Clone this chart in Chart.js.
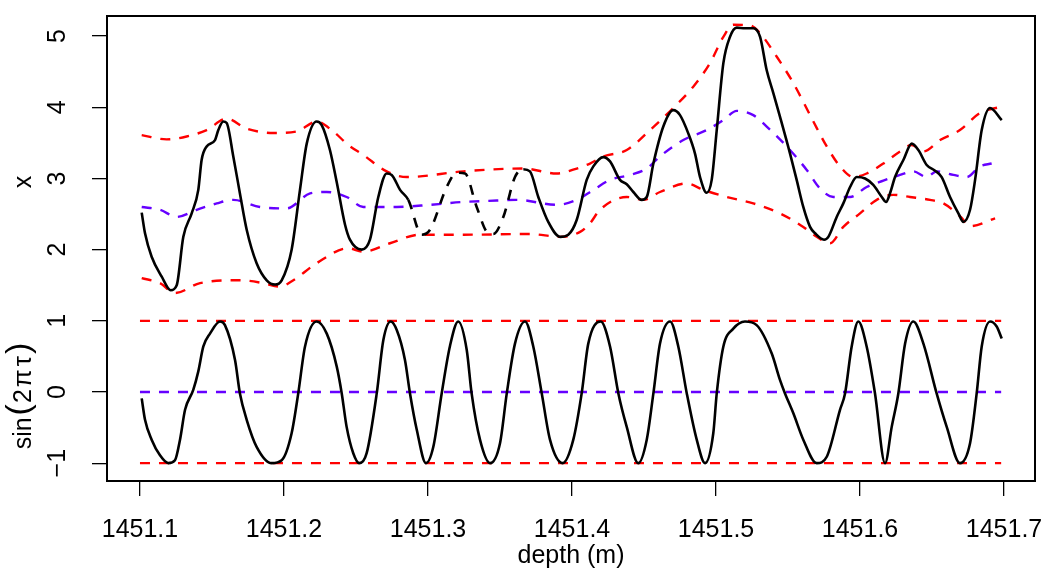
<!DOCTYPE html>
<html>
<head>
<meta charset="utf-8">
<script src="https://cdn.jsdelivr.net/npm/chart.js@4.4.1/dist/chart.umd.min.js"></script>
<style>
  body { margin: 0; background: #fff; }
  canvas { display: block; }
</style>
</head>
<body>
<canvas id="chart" width="1051" height="575"></canvas>
<script>
// Tick labels
const xTicks = [1451.1, 1451.2, 1451.3, 1451.4, 1451.5, 1451.6, 1451.7];
const yTicks = [-1, 0, 1, 2, 3, 4, 5];

// Upper panel: measured signal x(depth), dashed where it was interpolated
const xDepth = [
    1451.1012, 1451.1035, 1451.1081, 1451.1151, 1451.1213, 1451.1255, 1451.1301, 1451.1359,
    1451.1405, 1451.1428, 1451.1463, 1451.1521, 1451.1544, 1451.1578, 1451.1602, 1451.1648,
    1451.1694, 1451.1741, 1451.1810, 1451.1880, 1451.1938, 1451.1984, 1451.2053, 1451.2111,
    1451.2158, 1451.2227, 1451.2262, 1451.2319, 1451.2366, 1451.2424, 1451.2458, 1451.2540,
    1451.2597, 1451.2655, 1451.2713, 1451.2748, 1451.2806, 1451.2863,
    1451.2956, 1451.3014, 1451.3130, 1451.3199, 1451.3257, 1451.3338, 1451.3419, 1451.3453,
    1451.3523, 1451.3604, 1451.3662,
    1451.3708, 1451.3766, 1451.3835, 1451.3917, 1451.3974, 1451.4033, 1451.4102, 1451.4148,
    1451.4217, 1451.4264, 1451.4333, 1451.4380, 1451.4426, 1451.4484, 1451.4519, 1451.4565,
    1451.4634, 1451.4703, 1451.4750, 1451.4808, 1451.4854, 1451.4889, 1451.4935, 1451.4970,
    1451.5005, 1451.5051, 1451.5097, 1451.5144, 1451.5201, 1451.5259, 1451.5306, 1451.5352,
    1451.5398, 1451.5444, 1451.5514, 1451.5560, 1451.5606, 1451.5653, 1451.5688, 1451.5750,
    1451.5780, 1451.5838, 1451.5884, 1451.5931, 1451.5977, 1451.6035, 1451.6092, 1451.6151,
    1451.6181, 1451.6208, 1451.6243, 1451.6301, 1451.6359, 1451.6405, 1451.6463, 1451.6521,
    1451.6567, 1451.6625, 1451.6683, 1451.6718, 1451.6764, 1451.6799, 1451.6845, 1451.6903,
    1451.6984
];
const xValues = [
    2.52, 2.23, 1.90, 1.62, 1.43, 1.50, 2.18, 2.51,
    2.84, 3.26, 3.45, 3.54, 3.68, 3.80, 3.78, 3.31,
    2.79, 2.28, 1.81, 1.57, 1.51, 1.57, 2.00, 2.84,
    3.49, 3.80, 3.75, 3.40, 2.95, 2.35, 2.14, 2.00,
    2.14, 2.74, 3.07, 3.05, 2.84, 2.70,
    2.21, 2.28, 2.88, 3.08, 3.07, 2.60, 2.23, 2.22,
    2.46, 3.02, 3.13,
    3.10, 2.74, 2.39, 2.18, 2.21, 2.42, 2.98, 3.17,
    3.30, 3.24, 2.98, 2.92, 2.81, 2.70, 2.74, 3.21,
    3.73, 3.96, 3.89, 3.63, 3.35, 3.02, 2.80, 2.98,
    3.68, 4.62, 4.99, 5.12, 5.11, 5.11, 4.99, 4.52,
    4.20, 3.87, 3.35, 2.98, 2.60, 2.32, 2.23, 2.14,
    2.18, 2.46, 2.65, 2.88, 3.02, 3.00, 2.91, 2.74,
    2.67, 2.79, 3.02, 3.26, 3.49, 3.40, 3.19, 3.11,
    3.02, 2.74, 2.51, 2.39, 2.56, 2.98, 3.68, 3.99,
    3.82
];
const gapStart = 1451.2863;
const gapEnd = 1451.3662;

// Upper panel envelopes
const upperEnvDepth = [
    1451.1012, 1451.1185, 1451.1324, 1451.1463, 1451.1602, 1451.1741, 1451.1926, 1451.2088,
    1451.2227, 1451.2342, 1451.2447, 1451.2551, 1451.2713, 1451.2852, 1451.3245, 1451.3662,
    1451.3894, 1451.4033, 1451.4125, 1451.4217, 1451.4380, 1451.4542, 1451.4703, 1451.4842,
    1451.4958, 1451.5051, 1451.5120, 1451.5236, 1451.5306, 1451.5422, 1451.5537, 1451.5676,
    1451.5769, 1451.5861, 1451.5954, 1451.6046, 1451.6162, 1451.6278, 1451.6359, 1451.6440,
    1451.6556, 1451.6694, 1451.6833, 1451.6984
];
const upperEnvValues = [
    3.61, 3.55, 3.59, 3.68, 3.84, 3.70, 3.64, 3.66,
    3.80, 3.66, 3.47, 3.33, 3.10, 3.02, 3.10, 3.14,
    3.07, 3.14, 3.21, 3.31, 3.40, 3.68, 3.99, 4.29,
    4.62, 4.99, 5.16, 5.15, 5.04, 4.71, 4.34, 3.80,
    3.45, 3.17, 3.02, 3.07, 3.21, 3.38, 3.47, 3.38,
    3.54, 3.68, 3.92, 4.01
];
const lowerEnvDepth = [
    1451.1012, 1451.1139, 1451.1243, 1451.1417, 1451.1694, 1451.1856, 1451.1972, 1451.2065,
    1451.2227, 1451.2447, 1451.2551, 1451.2736, 1451.2944, 1451.3245, 1451.3708, 1451.3917,
    1451.4056, 1451.4125, 1451.4194, 1451.4380, 1451.4495, 1451.4611, 1451.4797, 1451.4912,
    1451.5074, 1451.5259, 1451.5444, 1451.5606, 1451.5699, 1451.5792, 1451.5884, 1451.6000,
    1451.6116, 1451.6231, 1451.6347, 1451.6486, 1451.6579, 1451.6699, 1451.6764, 1451.6938
];
const lowerEnvValues = [
    1.60, 1.53, 1.39, 1.53, 1.57, 1.53, 1.48, 1.57,
    1.81, 2.02, 1.97, 2.09, 2.21, 2.21, 2.22, 2.18,
    2.25, 2.37, 2.56, 2.74, 2.70, 2.81, 2.93, 2.84,
    2.74, 2.65, 2.51, 2.32, 2.18, 2.09, 2.32, 2.51,
    2.70, 2.77, 2.74, 2.70, 2.65, 2.46, 2.33, 2.44
];
const meanDepth = [
    1451.1012, 1451.1139, 1451.1255, 1451.1394, 1451.1533, 1451.1648, 1451.1833, 1451.2019,
    1451.2181, 1451.2297, 1451.2435, 1451.2551, 1451.2783, 1451.3014, 1451.3245, 1451.3477,
    1451.3616, 1451.3894, 1451.4033, 1451.4148, 1451.4264, 1451.4403, 1451.4519, 1451.4611,
    1451.4773, 1451.4935, 1451.5051, 1451.5144, 1451.5259, 1451.5352, 1451.5491, 1451.5630,
    1451.5722, 1451.5815, 1451.5931, 1451.6046, 1451.6162, 1451.6278, 1451.6370, 1451.6463,
    1451.6532, 1451.6648, 1451.6741, 1451.6833, 1451.6914
];
const meanValues = [
    2.60, 2.56, 2.46, 2.56, 2.65, 2.70, 2.60, 2.58,
    2.79, 2.81, 2.74, 2.60, 2.60, 2.63, 2.67, 2.69,
    2.70, 2.63, 2.70, 2.84, 2.98, 3.05, 3.14, 3.31,
    3.54, 3.68, 3.82, 3.95, 3.89, 3.73, 3.45, 3.12,
    2.86, 2.74, 2.74, 2.88, 2.97, 3.05, 3.10, 3.02,
    3.10, 3.05, 3.02, 3.17, 3.21
];

// Lower panel: sin(2*pi*tau)
const sinDepth = [
    1451.1012, 1451.1035, 1451.1081, 1451.1139, 1451.1197, 1451.1243, 1451.1278, 1451.1313,
    1451.1370, 1451.1405, 1451.1440, 1451.1486, 1451.1556, 1451.1590, 1451.1660, 1451.1694,
    1451.1741, 1451.1810, 1451.1915, 1451.1984, 1451.2053, 1451.2099, 1451.2146, 1451.2227,
    1451.2297, 1451.2366, 1451.2401, 1451.2435, 1451.2481, 1451.2523, 1451.2574, 1451.2644,
    1451.2690, 1451.2741, 1451.2783, 1451.2840, 1451.2875, 1451.2922, 1451.2986, 1451.3037,
    1451.3095, 1451.3153, 1451.3210, 1451.3269, 1451.3303, 1451.3361, 1451.3431, 1451.3500,
    1451.3547, 1451.3604, 1451.3674, 1451.3731, 1451.3790, 1451.3847, 1451.3935, 1451.4009,
    1451.4067, 1451.4113, 1451.4199, 1451.4264, 1451.4322, 1451.4380, 1451.4460, 1451.4519,
    1451.4565, 1451.4611, 1451.4681, 1451.4738, 1451.4797, 1451.4866, 1451.4924, 1451.4981,
    1451.5005, 1451.5051, 1451.5120, 1451.5201, 1451.5282, 1451.5387, 1451.5444, 1451.5479,
    1451.5537, 1451.5606, 1451.5699, 1451.5769, 1451.5861, 1451.5896, 1451.5942, 1451.5988,
    1451.6046, 1451.6104, 1451.6174, 1451.6220, 1451.6266, 1451.6313, 1451.6370, 1451.6440,
    1451.6532, 1451.6602, 1451.6694, 1451.6764, 1451.6810, 1451.6845, 1451.6903, 1451.6949,
    1451.6984
];
const sinValues = [
    -0.09, -0.39, -0.67, -0.89, -1.00, -0.96, -0.67, -0.25,
    0.03, 0.29, 0.64, 0.82, 0.99, 0.94, 0.45, -0.02,
    -0.39, -0.77, -1.00, -0.96, -0.58, -0.02, 0.64, 0.99,
    0.82, 0.36, -0.02, -0.49, -0.86, -1.00, -0.86, -0.02,
    0.73, 0.99, 0.87, 0.45, -0.02, -0.53, -1.00, -0.77,
    -0.02, 0.65, 0.99, 0.59, -0.02, -0.67, -1.00, -0.72,
    -0.02, 0.68, 0.99, 0.64, -0.02, -0.67, -1.00, -0.67,
    -0.02, 0.68, 0.99, 0.64, -0.02, -0.49, -1.00, -0.67,
    -0.02, 0.68, 0.99, 0.64, -0.02, -0.67, -1.00, -0.58,
    -0.02, 0.64, 0.89, 0.99, 0.94, 0.54, 0.17, -0.02,
    -0.30, -0.67, -1.00, -0.91, -0.25, -0.02, 0.64, 0.99,
    0.64, -0.02, -1.00, -0.49, -0.02, 0.68, 0.99, 0.68,
    -0.02, -0.49, -1.00, -0.72, -0.02, 0.64, 0.99, 0.92,
    0.75
];
const flatDepth = [1451.1, 1451.698];
const sinUpper = [1, 1];
const sinLower = [-1, -1];
const sinMean = [0, 0];

// Axis limits (R adds 4% around the data)
const X_MIN = 1451.0771;
const X_MAX = 1451.7215;
const Y_MIN = -1.2505;
const Y_MAX = 5.283;

const RED = '#FF0000';
const PURPLE = '#6600FF';
const DASH = [10, 9];
const FAMILY = '"Liberation Sans", Arial, Helvetica, sans-serif';
const FONT = '25px ' + FAMILY;

const toPoints = (xs, ys) => xs.map((x, i) => ({ x: x, y: ys[i] }));

function dashed(label, xs, ys, color) {
    return {
        label: label,
        data: toPoints(xs, ys),
        borderColor: color,
        borderWidth: 2.4,
        borderDash: DASH,
        cubicInterpolationMode: 'monotone',
        pointRadius: 0,
        fill: false
    };
}

const inGap = ctx => ctx.p0.parsed.x >= gapStart - 1e-6 && ctx.p1.parsed.x <= gapEnd + 1e-6;

// Labels, box and rotated y tick labels like base R graphics
const axisText = {
    id: 'axisText',
    afterDraw(chart) {
        const { ctx, chartArea, scales } = chart;
        const xs = scales.x, ys = scales.y;
        ctx.save();
        ctx.strokeStyle = '#000';
        ctx.lineWidth = 2;
        ctx.strokeRect(chartArea.left, chartArea.top, chartArea.right - chartArea.left, chartArea.bottom - chartArea.top);

        ctx.fillStyle = '#000';
        ctx.font = FONT;
        ctx.textAlign = 'center';
        ctx.textBaseline = 'alphabetic';
        xTicks.forEach(v => {
            ctx.fillText(v.toFixed(1), xs.getPixelForValue(v), 537);
        });
        ctx.fillText('depth (m)', (chartArea.left + chartArea.right) / 2, 563);

        const rotated = (text, x, y) => {
            ctx.save();
            ctx.translate(x, y);
            ctx.rotate(-Math.PI / 2);
            ctx.fillText(text, 0, 0);
            ctx.restore();
        };
        yTicks.forEach(v => {
            rotated(v < 0 ? '\u2212' + Math.abs(v) : String(v), 65, ys.getPixelForValue(v));
        });
        rotated('x', 31, ys.getPixelForValue(2.95));

        // sin(2πτ) in plotmath style: bigger brackets, spaced symbols
        const parts = [
            { t: 'sin', size: 25, dy: 0, gap: 2 },
            { t: '(', size: 34, dy: -2, gap: 1 },
            { t: '2', size: 25, dy: 0, gap: 2 },
            { t: '\u03C0', size: 26, dy: 0, gap: 3 },
            { t: '\u03C4', size: 26, dy: 0, gap: 2 },
            { t: ')', size: 34, dy: -2, gap: 0 }
        ];
        let total = 0;
        parts.forEach(p => {
            ctx.font = p.size + 'px ' + FAMILY;
            p.w = ctx.measureText(p.t).width;
            total += p.w + p.gap;
        });
        ctx.save();
        ctx.translate(31, ys.getPixelForValue(0) + 4);
        ctx.rotate(-Math.PI / 2);
        ctx.textAlign = 'left';
        let pos = -total / 2;
        parts.forEach(p => {
            ctx.font = p.size + 'px ' + FAMILY;
            ctx.fillText(p.t, pos, p.dy);
            pos += p.w + p.gap;
        });
        ctx.restore();
        ctx.restore();
    }
};

new Chart(document.getElementById('chart'), {
    type: 'line',
    data: {
        datasets: [
            {
                label: 'x',
                data: toPoints(xDepth, xValues),
                borderColor: '#000',
                borderWidth: 2.6,
                cubicInterpolationMode: 'monotone',
                pointRadius: 0,
                fill: false,
                segment: { borderDash: ctx => inGap(ctx) ? DASH : undefined }
            },
            dashed('upper', upperEnvDepth, upperEnvValues, RED),
            dashed('lower', lowerEnvDepth, lowerEnvValues, RED),
            dashed('mean', meanDepth, meanValues, PURPLE),
            {
                label: 'sin',
                data: toPoints(sinDepth, sinValues),
                borderColor: '#000',
                borderWidth: 2.6,
                cubicInterpolationMode: 'monotone',
                pointRadius: 0,
                fill: false
            },
            dashed('sin upper', flatDepth, sinUpper, RED),
            dashed('sin lower', flatDepth, sinLower, RED),
            dashed('sin mean', flatDepth, sinMean, PURPLE)
        ]
    },
    options: {
        responsive: false,
        animation: false,
        devicePixelRatio: 1,
        layout: { padding: { top: 16, right: 16, left: 0, bottom: 0 } },
        plugins: { legend: { display: false }, tooltip: { enabled: false } },
        scales: {
            x: {
                type: 'linear',
                min: X_MIN,
                max: X_MAX,
                afterBuildTicks: s => { s.ticks = xTicks.map(v => ({ value: v })); },
                afterFit: s => { s.height = 94; },
                ticks: { display: false },
                grid: { drawOnChartArea: false, drawTicks: true, tickLength: 15, color: '#000', lineWidth: 1.3 },
                border: { display: false }
            },
            y: {
                type: 'linear',
                min: Y_MIN,
                max: Y_MAX,
                afterBuildTicks: s => { s.ticks = yTicks.map(v => ({ value: v })); },
                afterFit: s => { s.width = 107; },
                ticks: { display: false },
                grid: { drawOnChartArea: false, drawTicks: true, tickLength: 15, color: '#000', lineWidth: 1.3 },
                border: { display: false }
            }
        }
    },
    plugins: [axisText]
});
</script>
</body>
</html>
